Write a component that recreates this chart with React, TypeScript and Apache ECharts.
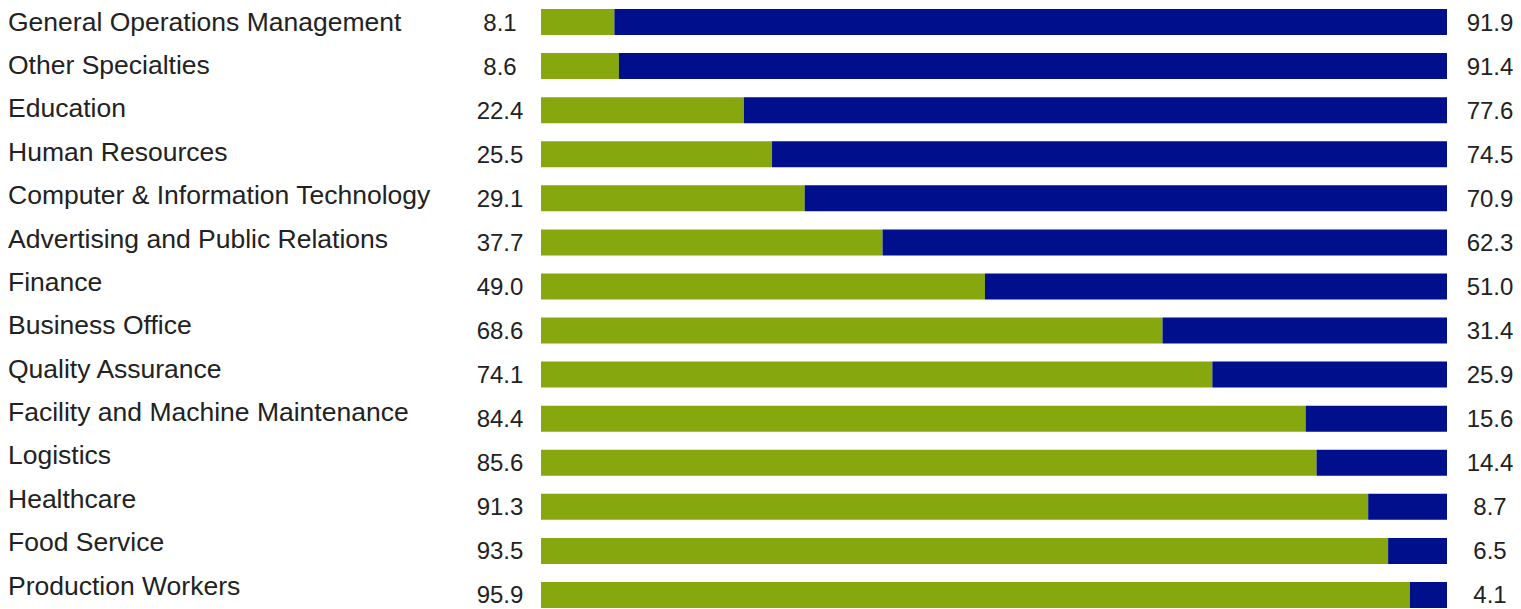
import React, { useEffect, useRef } from "react";
import * as echarts from "echarts";

const categories = [
  "General Operations Management",
  "Other Specialties",
  "Education",
  "Human Resources",
  "Computer & Information Technology",
  "Advertising and Public Relations",
  "Finance",
  "Business Office",
  "Quality Assurance",
  "Facility and Machine Maintenance",
  "Logistics",
  "Healthcare",
  "Food Service",
  "Production Workers",
];
const greenValues = [8.1, 8.6, 22.4, 25.5, 29.1, 37.7, 49.0, 68.6, 74.1, 84.4, 85.6, 91.3, 93.5, 95.9];
const blueValues = [91.9, 91.4, 77.6, 74.5, 70.9, 62.3, 51.0, 31.4, 25.9, 15.6, 14.4, 8.7, 6.5, 4.1];

const GREEN = "#87A70E";
const BLUE = "#000F8C";
const TEXT = "#222222";
const FONT = "'Liberation Sans', Arial, Helvetica, sans-serif";

export default function App() {
  const ref = useRef<HTMLDivElement>(null);
  useEffect(() => {
    if (!ref.current) return;
    const chart = echarts.init(ref.current, undefined, { renderer: "svg" });
    const idx = categories.map((_, i) => String(i));
    chart.setOption({
      animation: false,
      backgroundColor: "#ffffff",
      grid: [
        { left: 541, right: 74, top: 0, height: 617, containLabel: false },
        { left: 8, width: 10, top: 0, height: 607.3, containLabel: false },
      ],
      xAxis: [
        { type: "value", gridIndex: 0, min: 0, max: 100, show: false },
        { type: "value", gridIndex: 1, min: 0, max: 1, show: false },
      ],
      yAxis: [
        {
          type: "category",
          gridIndex: 0,
          inverse: true,
          data: idx,
          position: "left",
          axisLine: { show: false },
          axisTick: { show: false },
          splitLine: { show: false },
          axisLabel: {
            align: "center",
            margin: 41,
            color: TEXT,
            fontFamily: FONT,
            fontSize: 24,
            padding: [5, 0, 0, 0],
            formatter: (v: string) => greenValues[Number(v)].toFixed(1),
          },
        },
        {
          type: "category",
          gridIndex: 0,
          inverse: true,
          data: idx,
          position: "right",
          axisLine: { show: false },
          axisTick: { show: false },
          splitLine: { show: false },
          axisLabel: {
            align: "center",
            margin: 43,
            color: TEXT,
            fontFamily: FONT,
            fontSize: 24,
            padding: [5, 0, 0, 0],
            formatter: (v: string) => blueValues[Number(v)].toFixed(1),
          },
        },
        {
          type: "category",
          gridIndex: 1,
          inverse: true,
          data: categories,
          position: "left",
          axisLine: { show: false },
          axisTick: { show: false },
          splitLine: { show: false },
          axisLabel: {
            inside: true,
            align: "left",
            margin: 0,
            color: TEXT,
            fontFamily: FONT,
            fontSize: 26.5,
          },
        },
      ],
      series: [
        {
          type: "bar",
          xAxisIndex: 0,
          yAxisIndex: 0,
          stack: "total",
          data: greenValues,
          barWidth: 26,
          itemStyle: { color: GREEN },
        },
        {
          type: "bar",
          xAxisIndex: 0,
          yAxisIndex: 0,
          stack: "total",
          data: blueValues,
          barWidth: 26,
          itemStyle: { color: BLUE },
        },
      ],
    });
    return () => chart.dispose();
  }, []);
  return (
    <div
      ref={ref}
      style={{ position: "fixed", left: 0, top: 0, width: 1521, height: 620 }}
    />
  );
}
